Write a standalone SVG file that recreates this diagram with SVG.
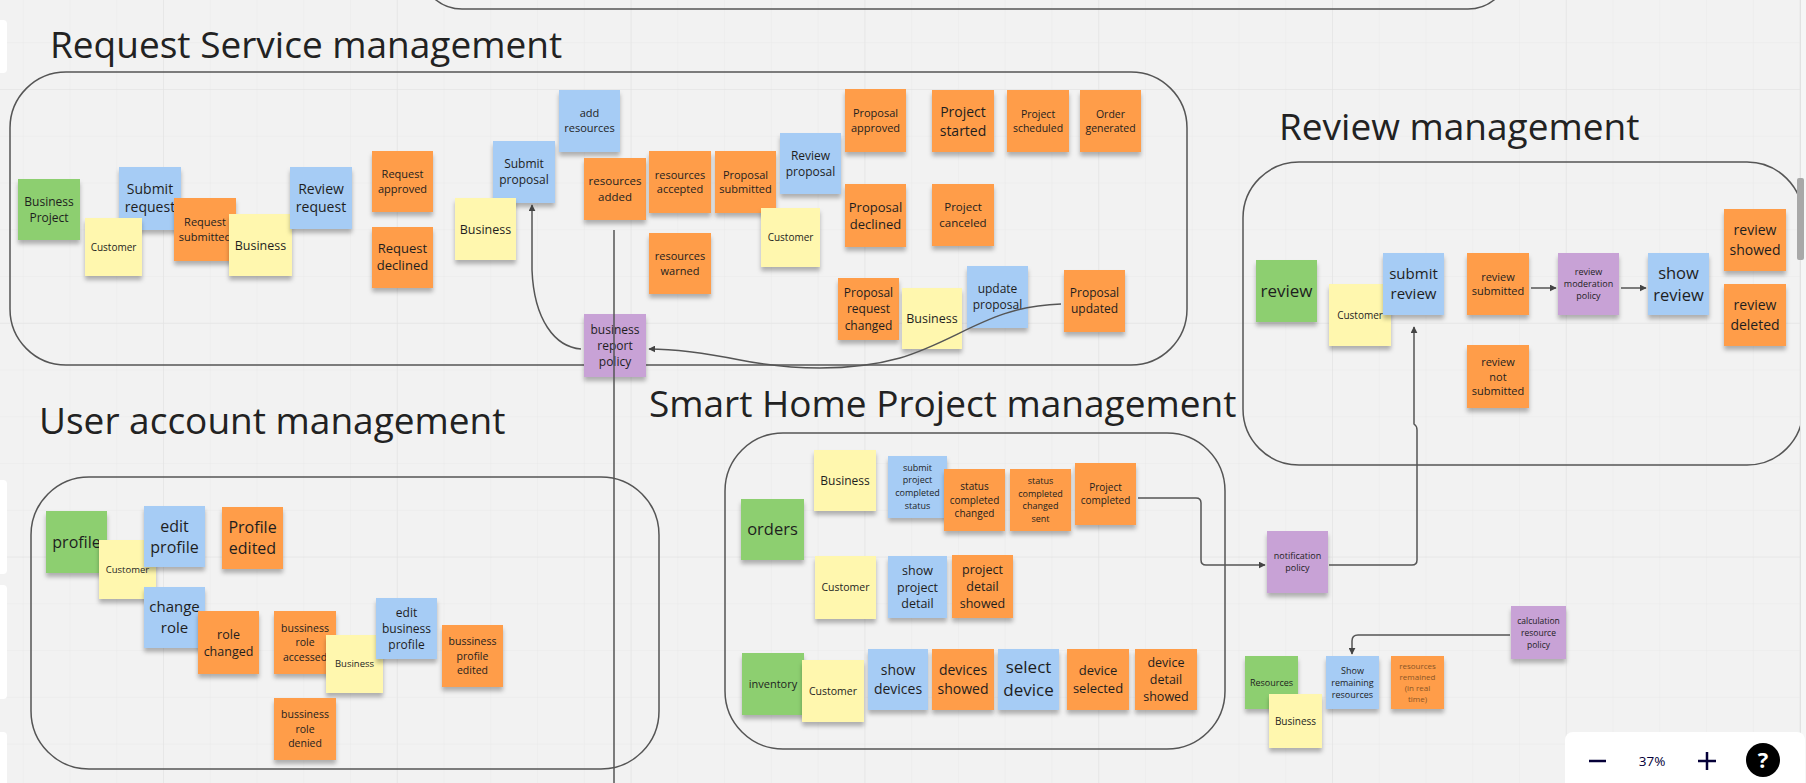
<svg xmlns="http://www.w3.org/2000/svg" width="1806" height="783" viewBox="0 0 1806 783">
<defs>
<pattern id="minor" patternUnits="userSpaceOnUse" x="22.7" y="42.2" width="46.76" height="46.76"><path d="M0 0H46.76M0 0V46.76" fill="none" stroke="#e9e9e9" stroke-width="1"/></pattern>
<pattern id="major" patternUnits="userSpaceOnUse" x="163" y="89" width="233.8" height="233.8"><path d="M0 0H233.8M0 0V233.8" fill="none" stroke="#e2e2e2" stroke-width="1.2"/></pattern>
<filter id="sh" x="-20%" y="-20%" width="140%" height="150%"><feDropShadow dx="0" dy="4" stdDeviation="2.2" flood-color="#000" flood-opacity="0.28"/></filter>
<marker id="ah" viewBox="0 0 10 10" refX="9" refY="5" markerWidth="7" markerHeight="7" orient="auto-start-reverse" markerUnits="userSpaceOnUse"><path d="M0 0L10 5L0 10z" fill="#444"/></marker>
<style>
.g{fill:#8dcf6f}.b{fill:#a6ccf5}.o{fill:#ff9d48}.y{fill:#fff7ae}.p{fill:#c8a2d6}
.n rect{filter:url(#sh)}
.n text{font-family:"Open Sans","Liberation Sans",sans-serif;text-anchor:middle;fill:#1e1e1e}
.ttl{font-family:"Open Sans","Liberation Sans",sans-serif;font-size:37px;fill:#222}
.box{fill:none;stroke:#555;stroke-width:1.5}
.c path{fill:none;stroke:#555;stroke-width:1.5}
</style>
</defs>
<rect width="1806" height="783" fill="#f2f2f2"/>
<rect width="1806" height="783" fill="url(#minor)"/>
<rect width="1806" height="783" fill="url(#major)"/>

<g id="containers">
<rect class="box" x="420" y="-200" width="1090" height="209" rx="42"/>
<rect class="box" x="10" y="72" width="1177" height="293" rx="56"/>
<rect class="box" x="1243" y="162" width="560" height="303" rx="56"/>
<rect class="box" x="31" y="477" width="628" height="292" rx="58"/>
<rect class="box" x="725" y="433" width="500" height="316" rx="58"/>
</g>

<g id="titles">
<text class="ttl" x="50" y="58">Request Service management</text>
<text class="ttl" x="1279" y="140">Review management</text>
<text class="ttl" x="39" y="434">User account management</text>
<text class="ttl" x="649" y="417">Smart Home Project management</text>
</g>

<g id="request-service" class="n">
<g id="business-project"><rect class="g" x="18" y="179" width="62" height="61"/><text font-size="12" x="49"><tspan x="49" y="205.7">Business</tspan><tspan x="49" y="221.9">Project</tspan></text></g>
<g id="submit-request"><rect class="b" x="119" y="167" width="62" height="63"/><text font-size="14" x="150"><tspan x="150" y="193.5">Submit</tspan><tspan x="150" y="212">request</tspan></text></g>
<g id="customer-1"><rect class="y" x="85" y="218" width="57" height="58"/><text font-size="10" x="113.5" y="250.6">Customer</text></g>
<g id="request-submitted"><rect class="o" x="174" y="198" width="62" height="63"/><text font-size="11" x="205"><tspan x="205" y="226.1">Request</tspan><tspan x="205" y="240.9">submitted</tspan></text></g>
<g id="business-1"><rect class="y" x="229" y="214" width="63" height="62"/><text font-size="12.5" x="260.5" y="249.5">Business</text></g>
<g id="review-request"><rect class="b" x="290" y="167" width="62" height="62"/><text font-size="14" x="321"><tspan x="321" y="193.5">Review</tspan><tspan x="321" y="212">request</tspan></text></g>
<g id="request-approved"><rect class="o" x="372" y="151" width="61" height="61"/><text font-size="11" x="402.5"><tspan x="402.5" y="178.1">Request</tspan><tspan x="402.5" y="192.9">approved</tspan></text></g>
<g id="request-declined"><rect class="o" x="372" y="227" width="61" height="61"/><text font-size="13" x="402.5"><tspan x="402.5" y="253.4">Request</tspan><tspan x="402.5" y="270.4">declined</tspan></text></g>
<g id="submit-proposal"><rect class="b" x="493" y="141" width="62" height="62"/><text font-size="12" x="524"><tspan x="524" y="168.2">Submit</tspan><tspan x="524" y="184.4">proposal</tspan></text></g>
<g id="business-2"><rect class="y" x="455" y="198" width="61" height="62"/><text font-size="12.5" x="485.5" y="233.5">Business</text></g>
<g id="add-resources"><rect class="b" x="559" y="90" width="61" height="62"/><text font-size="11" x="589.5"><tspan x="589.5" y="117">add</tspan><tspan x="589.5" y="131.8">resources</tspan></text></g>
<g id="resources-added"><rect class="o" x="584" y="158" width="62" height="62"/><text font-size="11.5" x="615"><tspan x="615" y="185.4">resources</tspan><tspan x="615" y="200.9">added</tspan></text></g>
<g id="resources-accepted"><rect class="o" x="649" y="151" width="62" height="62"/><text font-size="11" x="680"><tspan x="680" y="178.6">resources</tspan><tspan x="680" y="193.4">accepted</tspan></text></g>
<g id="proposal-submitted"><rect class="o" x="715" y="151" width="61" height="62"/><text font-size="11" x="745.5"><tspan x="745.5" y="178.6">Proposal</tspan><tspan x="745.5" y="193.4">submitted</tspan></text></g>
<g id="review-proposal"><rect class="b" x="780" y="133" width="61" height="61"/><text font-size="12" x="810.5"><tspan x="810.5" y="159.7">Review</tspan><tspan x="810.5" y="175.9">proposal</tspan></text></g>
<g id="customer-2"><rect class="y" x="761" y="208" width="59" height="59"/><text font-size="10" x="790.5" y="241.1">Customer</text></g>
<g id="proposal-approved"><rect class="o" x="845" y="89" width="61" height="63"/><text font-size="11" x="875.5"><tspan x="875.5" y="117.1">Proposal</tspan><tspan x="875.5" y="131.9">approved</tspan></text></g>
<g id="proposal-declined"><rect class="o" x="845" y="184" width="61" height="63"/><text font-size="13" x="875.5"><tspan x="875.5" y="211.8">Proposal</tspan><tspan x="875.5" y="228.6">declined</tspan></text></g>
<g id="resources-warned"><rect class="o" x="649" y="233" width="62" height="61"/><text font-size="11" x="680"><tspan x="680" y="260.1">resources</tspan><tspan x="680" y="274.9">warned</tspan></text></g>
<g id="project-started"><rect class="o" x="932" y="90" width="62" height="62"/><text font-size="14" x="963"><tspan x="963" y="116.6">Project</tspan><tspan x="963" y="135.5">started</tspan></text></g>
<g id="project-scheduled"><rect class="o" x="1007" y="90" width="62" height="62"/><text font-size="10.5" x="1038"><tspan x="1038" y="117.7">Project</tspan><tspan x="1038" y="131.9">scheduled</tspan></text></g>
<g id="order-generated"><rect class="o" x="1080" y="90" width="61" height="62"/><text font-size="10.5" x="1110.5"><tspan x="1110.5" y="117.7">Order</tspan><tspan x="1110.5" y="131.9">generated</tspan></text></g>
<g id="project-canceled"><rect class="o" x="932" y="184" width="62" height="62"/><text font-size="11.5" x="963"><tspan x="963" y="211.4">Project</tspan><tspan x="963" y="226.9">canceled</tspan></text></g>
<g id="business-report-policy"><rect class="p" x="584" y="314" width="62" height="63"/><text font-size="12" x="615"><tspan x="615" y="333.6">business</tspan><tspan x="615" y="349.8">report</tspan><tspan x="615" y="366">policy</tspan></text></g>
<g id="proposal-request-changed"><rect class="o" x="838" y="278" width="61" height="62"/><text font-size="12" x="868.5"><tspan x="868.5" y="297.1">Proposal</tspan><tspan x="868.5" y="313.3">request</tspan><tspan x="868.5" y="329.5">changed</tspan></text></g>
<g id="business-3"><rect class="y" x="902" y="288" width="60" height="61"/><text font-size="12.5" x="932" y="323">Business</text></g>
<g id="update-proposal"><rect class="b" x="967" y="266" width="61" height="62"/><text font-size="12" x="997.5"><tspan x="997.5" y="293.2">update</tspan><tspan x="997.5" y="309.4">proposal</tspan></text></g>
<g id="proposal-updated"><rect class="o" x="1064" y="270" width="61" height="62"/><text font-size="12" x="1094.5"><tspan x="1094.5" y="297.2">Proposal</tspan><tspan x="1094.5" y="313.4">updated</tspan></text></g>
</g>

<g id="review-mgmt" class="n">
<g id="review"><rect class="g" x="1256" y="260" width="61" height="62"/><text font-size="17" x="1286.5" y="296.5">review</text></g>
<g id="customer-rv"><rect class="y" x="1329" y="284" width="62" height="62"/><text font-size="10" x="1360" y="318.6">Customer</text></g>
<g id="submit-review"><rect class="b" x="1383" y="253" width="61" height="62"/><text font-size="15" x="1413.5"><tspan x="1413.5" y="279.4">submit</tspan><tspan x="1413.5" y="299.4">review</tspan></text></g>
<g id="review-submitted"><rect class="o" x="1467" y="253" width="62" height="62"/><text font-size="11" x="1498"><tspan x="1498" y="280.6">review</tspan><tspan x="1498" y="295.4">submitted</tspan></text></g>
<g id="review-moderation-policy"><rect class="p" x="1558" y="253" width="61" height="62"/><text font-size="9" x="1588.5"><tspan x="1588.5" y="275.1">review</tspan><tspan x="1588.5" y="287.2">moderation</tspan><tspan x="1588.5" y="299.4">policy</tspan></text></g>
<g id="show-review"><rect class="b" x="1648" y="253" width="61" height="62"/><text font-size="16.5" x="1678.5"><tspan x="1678.5" y="278.9">show</tspan><tspan x="1678.5" y="300.9">review</tspan></text></g>
<g id="review-showed"><rect class="o" x="1724" y="209" width="62" height="62"/><text font-size="14" x="1755"><tspan x="1755" y="235">review</tspan><tspan x="1755" y="255">showed</tspan></text></g>
<g id="review-deleted"><rect class="o" x="1724" y="284" width="62" height="62"/><text font-size="14" x="1755"><tspan x="1755" y="310">review</tspan><tspan x="1755" y="330">deleted</tspan></text></g>
<g id="review-not-submitted"><rect class="o" x="1467" y="345" width="62" height="63"/><text font-size="11" x="1498"><tspan x="1498" y="365.6">review</tspan><tspan x="1498" y="380.5">not</tspan><tspan x="1498" y="395.3">submitted</tspan></text></g>
</g>

<g id="user-account" class="n">
<g id="profile"><rect class="g" x="46" y="511" width="61" height="62"/><text font-size="16" x="76.5" y="547.8">profile</text></g>
<g id="customer-u"><rect class="y" x="99" y="540" width="57" height="59"/></g>
<g id="edit-profile"><rect class="b" x="144" y="506" width="61" height="61"/><text font-size="16" x="174.5"><tspan x="174.5" y="531.8">edit</tspan><tspan x="174.5" y="552.8">profile</tspan></text></g>
<g id="customer-u-label"><text font-size="9.5" x="127.5" y="572.9">Customer</text></g>
<g id="profile-edited"><rect class="o" x="222" y="507" width="61" height="62"/><text font-size="16" x="252.5"><tspan x="252.5" y="533.3">Profile</tspan><tspan x="252.5" y="554.3">edited</tspan></text></g>
<g id="change-role"><rect class="b" x="144" y="587" width="61" height="61"/><text font-size="15" x="174.5"><tspan x="174.5" y="612.4">change</tspan><tspan x="174.5" y="633.4">role</tspan></text></g>
<g id="role-changed"><rect class="o" x="198" y="611" width="61" height="63"/><text font-size="12.5" x="228.5"><tspan x="228.5" y="638.7">role</tspan><tspan x="228.5" y="655.7">changed</tspan></text></g>
<g id="bussiness-role-accessed"><rect class="o" x="274" y="611" width="62" height="63"/><text font-size="10.5" x="305"><tspan x="305" y="631.7">bussiness</tspan><tspan x="305" y="646.3">role</tspan><tspan x="305" y="660.9">accessed</tspan></text></g>
<g id="business-u"><rect class="y" x="326" y="635" width="57" height="58"/><text font-size="9.5" x="354.5" y="667.4">Business</text></g>
<g id="edit-business-profile"><rect class="b" x="376" y="598" width="61" height="61"/><text font-size="12" x="406.5"><tspan x="406.5" y="616.6">edit</tspan><tspan x="406.5" y="632.8">business</tspan><tspan x="406.5" y="649">profile</tspan></text></g>
<g id="bussiness-profile-edited"><rect class="o" x="442" y="625" width="61" height="62"/><text font-size="10.5" x="472.5"><tspan x="472.5" y="645.2">bussiness</tspan><tspan x="472.5" y="659.8">profile</tspan><tspan x="472.5" y="674.4">edited</tspan></text></g>
<g id="bussiness-role-denied"><rect class="o" x="274" y="698" width="62" height="62"/><text font-size="10.5" x="305"><tspan x="305" y="718.2">bussiness</tspan><tspan x="305" y="732.8">role</tspan><tspan x="305" y="747.4">denied</tspan></text></g>
</g>

<g id="smart-home" class="n">
<g id="business-s"><rect class="y" x="814" y="450" width="62" height="61"/><text font-size="12" x="845" y="484.8">Business</text></g>
<g id="submit-project-completed-status"><rect class="b" x="888" y="456" width="59" height="62"/><text font-size="9" x="917.5"><tspan x="917.5" y="470.5">submit</tspan><tspan x="917.5" y="483.3">project</tspan><tspan x="917.5" y="496.1">completed</tspan><tspan x="917.5" y="508.9">status</tspan></text></g>
<g id="status-completed-changed"><rect class="o" x="944" y="469" width="61" height="62"/><text font-size="10" x="974.5"><tspan x="974.5" y="490.1">status</tspan><tspan x="974.5" y="503.6">completed</tspan><tspan x="974.5" y="517.1">changed</tspan></text></g>
<g id="status-completed-changed-sent"><rect class="o" x="1010" y="469" width="61" height="62"/><text font-size="9" x="1040.5"><tspan x="1040.5" y="484">status</tspan><tspan x="1040.5" y="496.5">completed</tspan><tspan x="1040.5" y="509">changed</tspan><tspan x="1040.5" y="521.5">sent</tspan></text></g>
<g id="project-completed"><rect class="o" x="1075" y="463" width="61" height="62"/><text font-size="10" x="1105.5"><tspan x="1105.5" y="490.9">Project</tspan><tspan x="1105.5" y="504.4">completed</tspan></text></g>
<g id="orders"><rect class="g" x="741" y="499" width="63" height="61"/><text font-size="16.5" x="772.5" y="535.3">orders</text></g>
<g id="customer-s1"><rect class="y" x="815" y="556" width="61" height="63"/><text font-size="10.5" x="845.5" y="591.3">Customer</text></g>
<g id="show-project-detail"><rect class="b" x="888" y="556" width="59" height="62"/><text font-size="12.5" x="917.5"><tspan x="917.5" y="574.6">show</tspan><tspan x="917.5" y="591.5">project</tspan><tspan x="917.5" y="608.4">detail</tspan></text></g>
<g id="project-detail-showed"><rect class="o" x="952" y="555" width="61" height="63"/><text font-size="12.5" x="982.5"><tspan x="982.5" y="574.1">project</tspan><tspan x="982.5" y="591">detail</tspan><tspan x="982.5" y="607.9">showed</tspan></text></g>
<g id="inventory"><rect class="g" x="742" y="653" width="62" height="62"/><text font-size="11" x="773" y="688">inventory</text></g>
<g id="customer-s2"><rect class="y" x="802" y="660" width="62" height="62"/><text font-size="10.5" x="833" y="694.8">Customer</text></g>
<g id="show-devices"><rect class="b" x="868" y="649" width="60" height="61"/><text font-size="14" x="898"><tspan x="898" y="675">show</tspan><tspan x="898" y="694">devices</tspan></text></g>
<g id="devices-showed"><rect class="o" x="932" y="649" width="62" height="61"/><text font-size="14" x="963"><tspan x="963" y="675">devices</tspan><tspan x="963" y="694">showed</tspan></text></g>
<g id="select-device"><rect class="b" x="998" y="649" width="61" height="61"/><text font-size="17" x="1028.5"><tspan x="1028.5" y="672.8">select</tspan><tspan x="1028.5" y="695.8">device</tspan></text></g>
<g id="device-selected"><rect class="o" x="1067" y="649" width="62" height="61"/><text font-size="13" x="1098"><tspan x="1098" y="675.2">device</tspan><tspan x="1098" y="693.2">selected</tspan></text></g>
<g id="device-detail-showed"><rect class="o" x="1135" y="649" width="62" height="61"/><text font-size="12.5" x="1166"><tspan x="1166" y="667.1">device</tspan><tspan x="1166" y="684">detail</tspan><tspan x="1166" y="700.9">showed</tspan></text></g>
</g>

<g id="outside" class="n">
<g id="notification-policy"><rect class="p" x="1267" y="531" width="61" height="62"/><text font-size="9" x="1297.5"><tspan x="1297.5" y="558.6">notification</tspan><tspan x="1297.5" y="571">policy</tspan></text></g>
<g id="resources"><rect class="g" x="1245" y="656" width="53" height="53"/><text font-size="9" x="1271.5" y="685.7">Resources</text></g>
<g id="business-o"><rect class="y" x="1269" y="694" width="53" height="54"/><text font-size="10" x="1295.5" y="724.6">Business</text></g>
<g id="show-remaining-resources"><rect class="b" x="1326" y="656" width="53" height="53"/><text font-size="9" x="1352.5"><tspan x="1352.5" y="673.7">Show</tspan><tspan x="1352.5" y="685.7">remaining</tspan><tspan x="1352.5" y="697.7">resources</tspan></text></g>
<g id="resources-remained"><rect class="o" x="1391" y="656" width="53" height="53"/><text font-size="8" x="1417.5" style="fill:#8a5526"><tspan x="1417.5" y="668.6">resources</tspan><tspan x="1417.5" y="679.8">remained</tspan><tspan x="1417.5" y="691">(in real</tspan><tspan x="1417.5" y="702.2">time)</tspan></text></g>
<g id="calculation-resource-policy"><rect class="p" x="1511" y="606" width="55" height="53"/><text font-size="8.5" x="1538.5"><tspan x="1538.5" y="623.5">calculation</tspan><tspan x="1538.5" y="635.5">resource</tspan><tspan x="1538.5" y="647.5">policy</tspan></text></g>
</g>

<g id="connectors" class="c">
<path d="M614 230V783"/>
<path d="M581 349C555 347 534 320 532 270L532 205" marker-end="url(#ah)"/>
<path d="M1061 304C990 306 960 340 900 358C850 372 790 370 740 360C700 352 672 349 649 349" marker-end="url(#ah)"/>
<path d="M1531 288H1556" marker-end="url(#ah)"/>
<path d="M1621 288H1646" marker-end="url(#ah)"/>
<path d="M1138 498H1196Q1201 498 1201 503V560Q1201 565 1206 565H1265" marker-end="url(#ah)"/>
<path d="M1329 565H1412Q1417 565 1417 560V430Q1417 426 1414 424V327" marker-end="url(#ah)"/>
<path d="M1510 635H1358Q1352 635 1352 641V654" marker-end="url(#ah)"/>
</g>

<g id="ui">
<rect x="-10" y="20" width="17" height="53" rx="4" fill="#fff"/>
<rect x="-10" y="480" width="17" height="94" rx="4" fill="#fff"/>
<rect x="-10" y="585" width="17" height="114" rx="4" fill="#fff"/>
<rect x="-10" y="732" width="17" height="60" rx="4" fill="#fff"/>
<rect x="1800" y="0" width="6" height="783" fill="#f6f6f6"/>
<line x1="1800.5" y1="0" x2="1800.5" y2="783" stroke="#e2e2e2"/>
<rect x="1797" y="178" width="7" height="82" rx="2" fill="#a8a8a8"/>
<rect x="1565" y="732" width="240" height="70" rx="8" fill="#fff"/>
<line x1="1589" y1="761" x2="1606" y2="761" stroke="#050038" stroke-width="2.5"/>
<text x="1652" y="766" font-family="Open Sans, Liberation Sans, sans-serif" font-size="13.5" fill="#050038" text-anchor="middle">37%</text>
<path d="M1698 761H1716M1707 752V770" stroke="#050038" stroke-width="2.5" fill="none"/>
<circle cx="1763" cy="760" r="17" fill="#000"/>
<text x="1763" y="768" font-family="Open Sans, Liberation Sans, sans-serif" font-size="22" font-weight="bold" fill="#fff" text-anchor="middle">?</text>
</g>
</svg>
